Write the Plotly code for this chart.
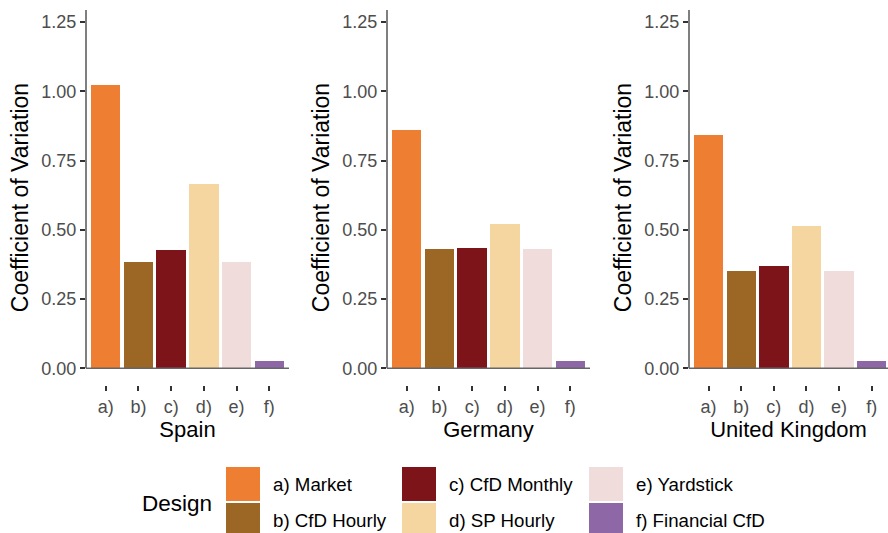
import plotly.graph_objects as go

# ---------------- data ----------------
countries = ["Spain", "Germany", "United Kingdom"]
design_codes = ["a)", "b)", "c)", "d)", "e)", "f)"]
design_labels = ["a) Market", "b) CfD Hourly", "c) CfD Monthly",
                 "d) SP Hourly", "e) Yardstick", "f) Financial CfD"]
cv_spain = [1.023, 0.384, 0.428, 0.666, 0.384, 0.027]
cv_germany = [0.860, 0.431, 0.434, 0.521, 0.431, 0.027]
cv_uk = [0.842, 0.351, 0.369, 0.514, 0.351, 0.027]
y_tick_values = [0.0, 0.25, 0.50, 0.75, 1.00, 1.25]

# ---------------- style ----------------
colors = ["#ED7E32", "#9C6625", "#7C141A", "#F5D5A0", "#F1DCDC", "#8D67A6"]
W, H = 888, 533
FONT = "Liberation Sans, Arial, Helvetica, sans-serif"
GRAY = "#4D4D4D"
Y_RANGE = [-0.060, 1.293]
x_domains_px = [(86, 289), (387, 590), (689, 888)]
x_ranges = [[-0.6, 5.6], [-0.6, 5.6], [-0.6, 5.5]]
plot_top_px, plot_bottom_px = 10, 385

fig = go.Figure()
series = [cv_spain, cv_germany, cv_uk]

for i, (country, vals) in enumerate(zip(countries, series)):
    sfx = "" if i == 0 else str(i + 1)
    fig.add_trace(go.Bar(
        x=design_codes, y=vals, marker=dict(color=colors, line=dict(width=0)),
        width=0.9, showlegend=False, xaxis="x" + sfx, yaxis="y" + sfx,
        name=country,
    ))
    d0, d1 = x_domains_px[i]
    fig.layout["xaxis" + sfx] = dict(
        domain=[d0 / W, min(d1 / W, 1.0)], anchor="y" + sfx,
        type="category", range=x_ranges[i],
        showline=False, showgrid=False, zeroline=False,
        ticks="outside", ticklen=5, tickwidth=1.5, tickcolor="#333333",
        tickfont=dict(family=FONT, size=18, color=GRAY),
        title=dict(text=country, font=dict(family=FONT, size=22, color="black"),
                   standoff=4),
    )
    fig.layout["yaxis" + sfx] = dict(
        domain=[1 - plot_bottom_px / H, 1 - plot_top_px / H], anchor="x" + sfx,
        range=Y_RANGE, tickvals=y_tick_values, tickformat=".2f",
        showline=False, showgrid=False, zeroline=False,
        ticks="outside", ticklen=5, tickwidth=1.5, tickcolor="#333333",
        tickfont=dict(family=FONT, size=18, color=GRAY),
        title=dict(text="Coefficient of Variation",
                   font=dict(family=FONT, size=23, color="black"), standoff=6),
    )
    # axis lines (y axis from 0 up, x axis at y = 0)
    fig.add_shape(type="line", xref="x" + sfx + " domain", yref="y" + sfx,
                  x0=0, x1=0, y0=0, y1=Y_RANGE[1],
                  line=dict(color="#555555", width=1.5))
    fig.add_shape(type="line", xref="x" + sfx + " domain", yref="y" + sfx,
                  x0=0, x1=1, y0=0, y1=0,
                  line=dict(color="#666666", width=1.5))

# ---------------- legend (3 columns x 2 rows) ----------------
col_key_x = [226, 402, 589]
row_key_y = [467, 503]
key_w, key_h = 34, 34
for k, (lab, col) in enumerate(zip(design_labels, colors)):
    c, r = k // 2, k % 2
    x0 = col_key_x[c]
    y0 = row_key_y[r]
    fig.add_shape(type="rect", xref="paper", yref="paper",
                  x0=x0 / W, x1=(x0 + key_w) / W,
                  y0=1 - y0 / H, y1=1 - (y0 + key_h) / H,
                  fillcolor=col, line=dict(width=0))
    fig.add_annotation(xref="paper", yref="paper",
                       x=(x0 + key_w + 11) / W, y=1 - (y0 + key_h / 2) / H,
                       text=lab, showarrow=False, xanchor="left", yanchor="middle",
                       font=dict(family=FONT, size=18.7, color="black"))
fig.add_annotation(xref="paper", yref="paper", x=140 / W, y=1 - 503 / H,
                   text="Design", showarrow=False, xanchor="left", yanchor="middle",
                   font=dict(family=FONT, size=22.5, color="black"))

fig.update_layout(
    width=W, height=H, margin=dict(l=0, r=0, t=0, b=0),
    paper_bgcolor="white", plot_bgcolor="white", bargap=0,
    font=dict(family=FONT),
)
fig.write_html("out.html", config={"displayModeBar": False},
               post_script="document.body.style.margin='0';"
                           "document.body.style.overflow='hidden';")
